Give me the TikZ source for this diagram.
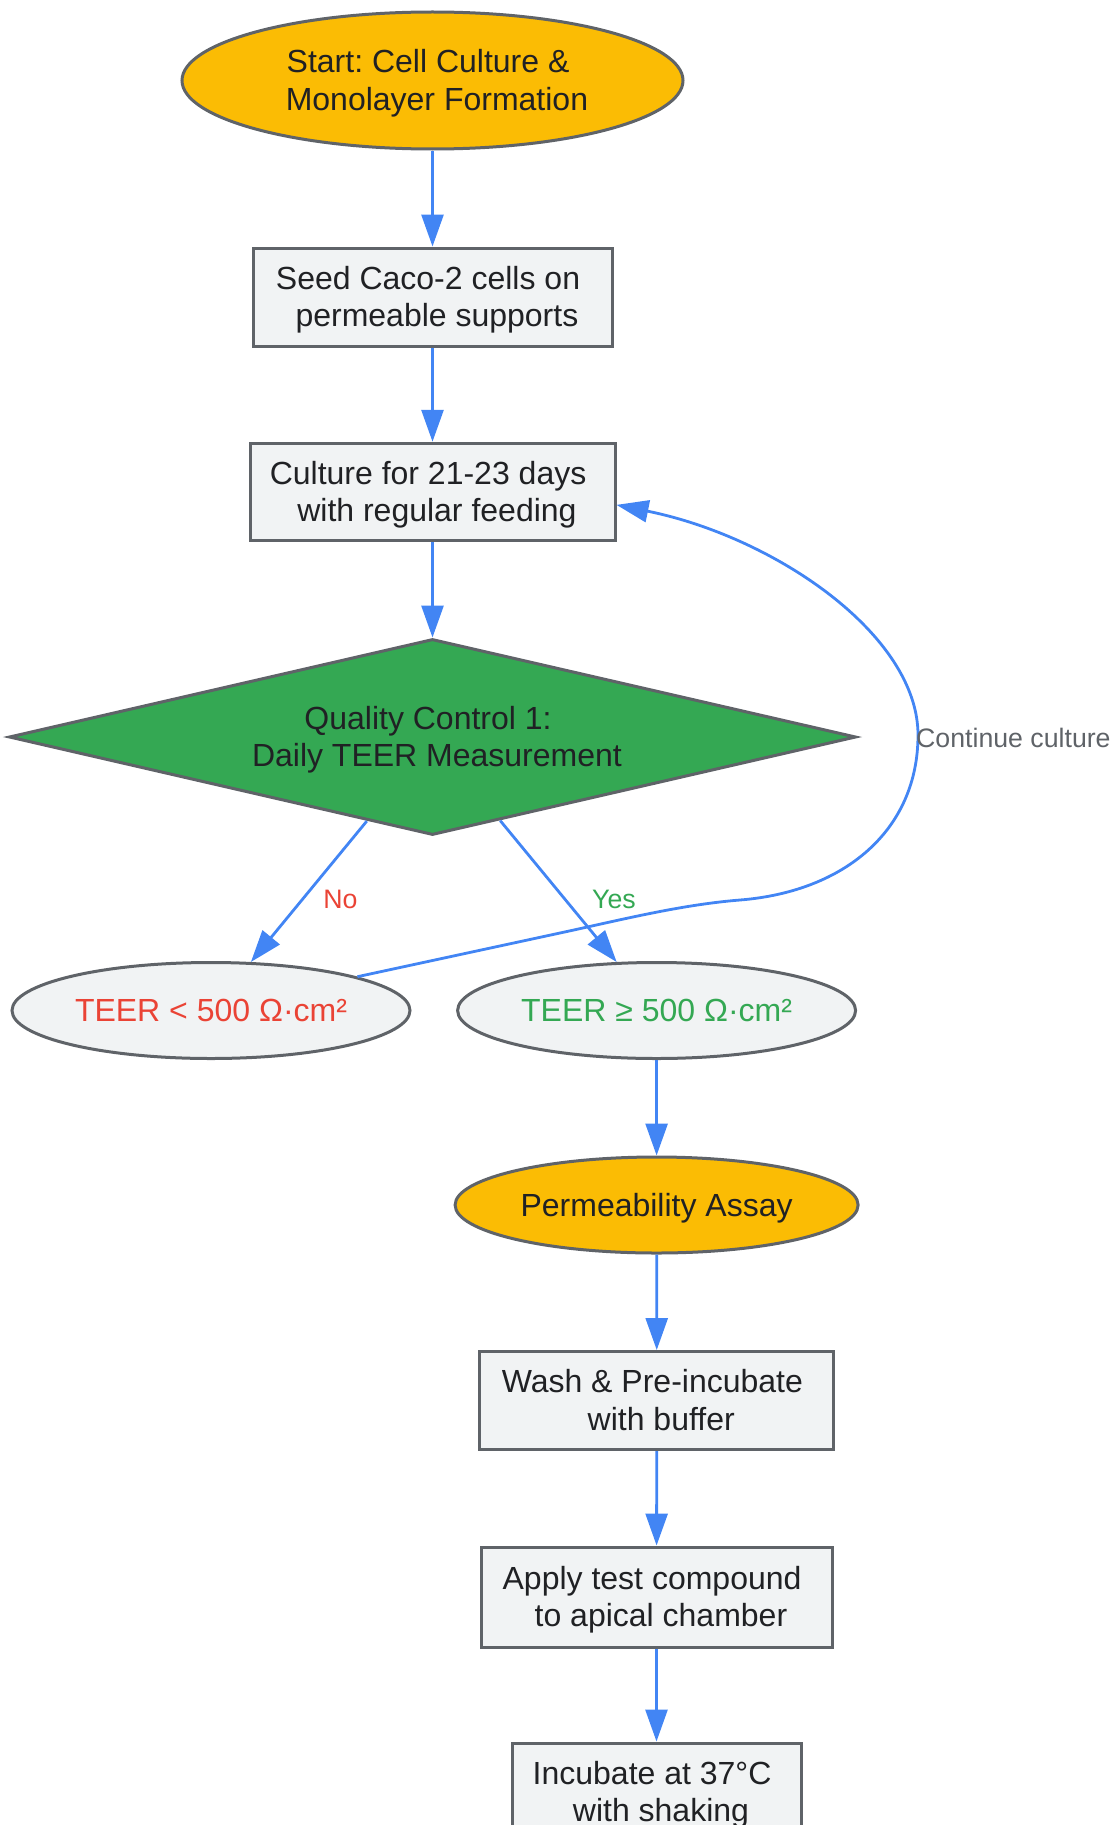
\documentclass[tikz,border=0pt]{standalone}
\usepackage{fontspec}
\setmainfont{Liberation Sans}
\usetikzlibrary{shapes.geometric,arrows.meta}
\definecolor{strokegrey}{HTML}{5F6368}
\definecolor{boxfill}{HTML}{F1F3F4}
\definecolor{gyellow}{HTML}{FBBC04}
\definecolor{ggreen}{HTML}{34A853}
\definecolor{gblue}{HTML}{4285F4}
\definecolor{gred}{HTML}{EA4335}
\definecolor{txt}{HTML}{202124}
\newcommand\tsp{\hspace*{0.278em}}
\newcommand\lstr{\rule[-0.212em]{0pt}{1.117em}}
\frenchspacing
\tikzset{
  base/.style={draw=strokegrey, line width=3pt, inner sep=0pt, align=center,
    text=txt, font=\fontsize{32}{37.5}\selectfont\frenchspacing},
  procbox/.style={base, rectangle, fill=boxfill},
  termnode/.style={base, ellipse, fill=gyellow},
  resnode/.style={base, ellipse, fill=boxfill},
  decnode/.style={base, diamond, fill=ggreen, shape aspect=4.32},
  flow/.style={draw=gblue, line width=2.8pt, -{Triangle[length=32pt,width=22pt]}},
  elabel/.style={font=\fontsize{26.7}{30}\selectfont, inner sep=0pt}
}
\begin{document}
\begin{tikzpicture}[x=1pt,y=1pt]
\clip (0,0) rectangle (1113,-1825);
\useasboundingbox (0,0) rectangle (1113,-1825);

\node[termnode, minimum width=501pt, minimum height=137pt] (st) at (432.5,-80.5)
  {\lstr Start: Cell Culture \&\tsp\\\lstr\tsp Monolayer Formation};
\node[procbox, minimum width=359pt, minimum height=98pt] (sd) at (432.5,-297)
  {\lstr Seed Caco-2 cells on\tsp\\\lstr\tsp permeable supports};
\node[procbox, minimum width=365pt, minimum height=97.5pt] (cu) at (432.5,-492)
  {\lstr Culture for 21-23 days\tsp\\\lstr\tsp with regular feeding};
\node[decnode, minimum width=847pt, minimum height=196pt] (qc) at (432.5,-737)
  {\lstr Quality Control 1:\tsp\\\lstr\tsp Daily TEER Measurement};
\node[resnode, minimum width=398pt, minimum height=96pt, text=gred] (lo) at (211,-1010.5)
  {\lstr TEER < 500 Ω·cm²};
\node[resnode, minimum width=398pt, minimum height=96pt, text=ggreen] (hi) at (656.6,-1010.5)
  {\lstr TEER ≥ 500 Ω·cm²};
\node[termnode, minimum width=403pt, minimum height=96pt] (pa) at (656.6,-1205)
  {\lstr Permeability Assay};
\node[procbox, minimum width=354pt, minimum height=98pt] (wa) at (656.8,-1400.5)
  {\lstr Wash \& Pre-incubate\tsp\\\lstr\tsp with buffer};
\node[procbox, minimum width=351pt, minimum height=100pt] (ap) at (656.5,-1597)
  {\lstr Apply test compound\tsp\\\lstr\tsp to apical chamber};
\node[procbox, minimum width=289pt, minimum height=98pt] (ic) at (656.5,-1792)
  {\lstr Incubate at 37°C\tsp\\\lstr\tsp with shaking};

\draw[flow] (st) -- (sd);
\draw[flow] (sd) -- (cu);
\draw[flow] (cu) -- (qc);
\draw[flow] (qc.-128) -- (lo);
\draw[flow] (qc.-51) -- (hi);
\draw[flow] (hi) -- (pa);
\draw[flow] (pa) -- (wa);
\draw[flow] (wa) -- (ap);
\draw[flow] (ap) -- (ic);

\draw[flow] (lo.13) -- (560,-933)
  .. controls (620,-920.1) and (680,-904.8) .. (740,-900)
  .. controls (845,-891.6) and (918,-830) .. (918,-735)
  .. controls (918,-635) and (775,-537) .. (cu.-4);

\node[elabel, text=gred] (nolab) at (340.5,-899) {No};
\node[elabel, text=ggreen] (yeslab) at (614,-899) {Yes};
\node[elabel, text=strokegrey, anchor=west] (contlab) at (916,-738) {Continue culture};
\end{tikzpicture}
\end{document}
